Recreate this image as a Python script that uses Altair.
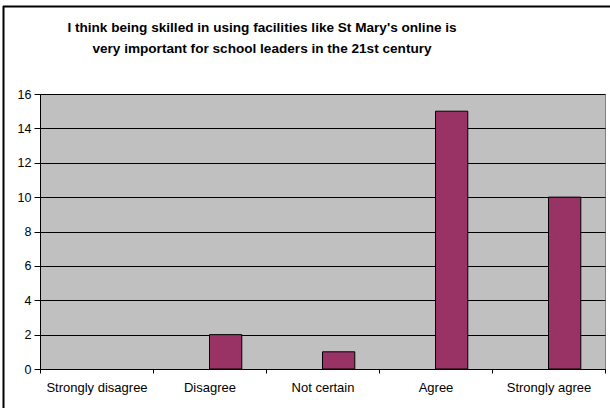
import altair as alt
import pandas as pd

categories = ["Strongly disagree", "Disagree", "Not certain", "Agree", "Strongly agree"]
values = [0, 2, 1, 15, 10]
series = ["Series2"] * 5
title_line1 = "I think being skilled in using facilities like St Mary's online is"
title_line2 = "very important for school leaders in the 21st century"
y_ticks = [0, 2, 4, 6, 8, 10, 12, 14, 16]

df = pd.DataFrame({"category": categories, "value": values, "series": series})

FONT = "Liberation Sans"

bars = alt.Chart(df).transform_filter("datum.value > 0").mark_bar(
    color="#993366", stroke="#000000", strokeWidth=1).encode(
    x=alt.X("category:N", sort=categories,
            scale=alt.Scale(domain=categories, paddingInner=0, paddingOuter=0),
            axis=alt.Axis(title=None, labelAngle=0, tickBand="extent", tickSize=4,
                          labelPadding=8, domainColor="#000000", tickColor="#000000",
                          labelColor="#000000", labelFont=FONT, labelFontSize=13, grid=False)),
    xOffset=alt.XOffset("series:N",
                        scale=alt.Scale(domain=["Series1", "Series2"], paddingInner=0, paddingOuter=0.75)),
    y=alt.Y("value:Q", scale=alt.Scale(domain=[0, 16], nice=False),
            axis=alt.Axis(title=None, values=y_ticks, tickSize=6, labelPadding=3,
                          domainColor="#000000", tickColor="#000000", gridColor="#000000",
                          labelColor="#000000", labelFont=FONT, labelFontSize=12.5, grid=True)),
)

one = pd.DataFrame({"k": [0]})
top_border = alt.Chart(one).mark_rule(color="#000000", strokeWidth=2).encode(
    x=alt.value(-37), x2=alt.value(570), y=alt.value(-87.5))
left_border = alt.Chart(one).mark_rule(color="#000000", strokeWidth=2).encode(
    x=alt.value(-36.5), y=alt.value(-88), y2=alt.value(314))

t1 = alt.Chart(one).mark_text(font=FONT, fontSize=13.6, fontWeight="bold", color="#000000",
                              align="center", baseline="alphabetic").encode(
    x=alt.value(222), y=alt.value(-62), text=alt.value(title_line1))
t2 = alt.Chart(one).mark_text(font=FONT, fontSize=13.6, fontWeight="bold", color="#000000",
                              align="center", baseline="alphabetic").encode(
    x=alt.value(222), y=alt.value(-41), text=alt.value(title_line2))

chart = alt.layer(bars, top_border, left_border, t1, t2).properties(
    width=565, height=275,
    padding={"left": 40, "top": 94, "right": 5, "bottom": 39},
    autosize=alt.AutoSizeParams(type="none"),
).configure(background="#FFFFFF").configure_view(fill="#C0C0C0", stroke="#808080", strokeWidth=1)

chart.save("out.html", embed_options={"renderer": "svg", "actions": False})
